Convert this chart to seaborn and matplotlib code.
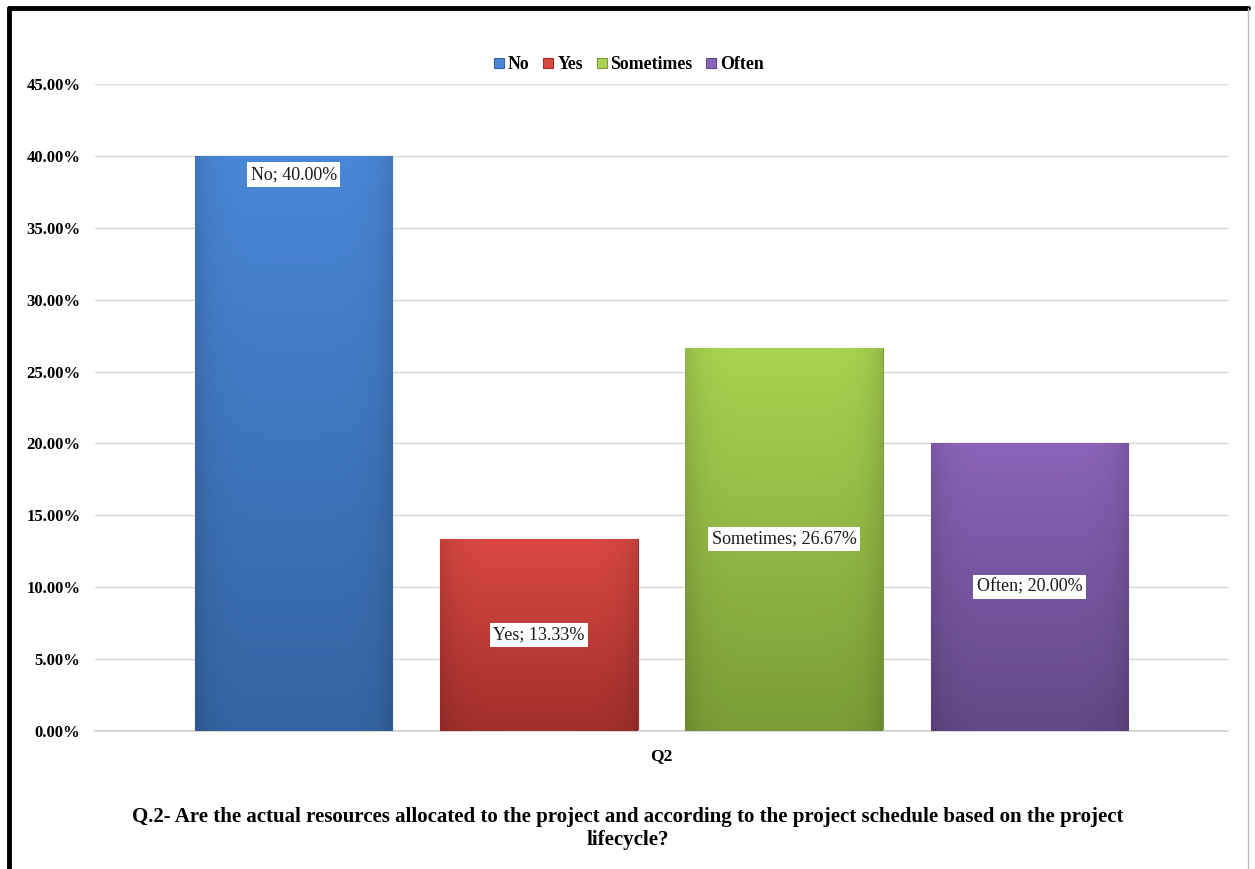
import numpy as np
import pandas as pd
import seaborn as sns
import matplotlib.pyplot as plt
from matplotlib.colors import LinearSegmentedColormap
from matplotlib.lines import Line2D
from matplotlib.ticker import PercentFormatter

# Survey answers for Q2
categories = ["No", "Yes", "Sometimes", "Often"]
shares = [0.40, 0.1333, 0.2667, 0.20]
label_texts = ["No; 40.00%", "Yes; 13.33%", "Sometimes; 26.67%", "Often; 20.00%"]
group_label = "Q2"
title = ("Q.2- Are the actual resources allocated to the project and according to the project schedule based on the project\n"
         "lifecycle?")

# top / bottom shades of the Excel style gradient
top_colors = ["#4A87D8", "#DA4842", "#A9D350", "#8A64B9"]
bottom_colors = ["#3464A2", "#A22F2B", "#7A9D37", "#634886"]
label_inside_end = [True, False, False, False]

data = pd.DataFrame({"Answer": categories, "Share": shares})

sns.set_theme(style="white")
plt.rcParams["font.family"] = ["Liberation Serif", "DejaVu Serif"]
plt.rcParams["text.color"] = "black"
plt.rcParams["axes.labelcolor"] = "black"
plt.rcParams["ytick.color"] = "black"

fig = plt.figure(figsize=(12.55, 8.69), dpi=100)
ax = fig.add_axes([0.0757, 0.1588, 0.9028, 0.7445])

palette = dict(zip(categories, top_colors))
sns.barplot(data=data, x="Answer", y="Share", hue="Answer", palette=palette,
            width=0.805, dodge=False, legend=False, ax=ax, zorder=2)

ax.set_ylim(0, 0.45)
ax.set_xlim(-0.81, 3.81)
ax.set_yticks(np.arange(0, 0.451, 0.05))
ax.yaxis.set_major_formatter(PercentFormatter(1.0, decimals=2))
ax.grid(axis="y", color="#D9D9D9", linewidth=1, zorder=0)
ax.set_axisbelow(True)
for s in ["top", "right", "left"]:
    ax.spines[s].set_visible(False)
ax.spines["bottom"].set_color("#D0D0D0")
ax.spines["bottom"].set_linewidth(1.2)
ax.tick_params(axis="y", length=0, pad=10.5, labelsize=12, labelcolor="black")
ax.tick_params(axis="x", length=0)
for t in ax.get_yticklabels():
    t.set_fontweight("bold")
ax.set_xticks([])
ax.set_xlabel(group_label, fontsize=12.5, fontweight="bold", labelpad=12, color="black")
ax.set_ylabel("")

# gradient fill clipped to each bar
for patch, c_top, c_bot in zip(ax.patches, top_colors, bottom_colors):
    x0, y0 = patch.get_x(), patch.get_y()
    w, h = patch.get_width(), patch.get_height()
    cmap = LinearSegmentedColormap.from_list("g", [c_bot, c_top])
    grad = np.linspace(0, 1, 256).reshape(-1, 1)
    edge = 1 - 0.12 * np.abs(np.linspace(-1, 1, 64)) ** 6
    img = cmap(grad * np.ones((1, 64)))
    img[..., :3] *= edge[None, :, None]
    im = ax.imshow(img, extent=[x0, x0 + w, y0, y0 + h], origin="lower",
                   aspect="auto", zorder=3)
    im.set_clip_path(patch)
    patch.set_edgecolor(c_bot)
    patch.set_linewidth(0.8)

# data labels
for i, (val, txt, at_end) in enumerate(zip(shares, label_texts, label_inside_end)):
    y = val - 0.013 if at_end else val / 2
    ax.text(i, y, txt, ha="center", va="center", fontsize=13, color="#1a1a1a",
            zorder=5, bbox=dict(boxstyle="square,pad=0.2", fc="white", ec="none"))

# legend
handles = [Line2D([0], [0], marker="s", linestyle="", markersize=7,
                  markerfacecolor=c, markeredgecolor=b, markeredgewidth=0.8)
           for c, b in zip(top_colors, bottom_colors)]
leg = fig.legend(handles, categories, loc="center", bbox_to_anchor=(0.5, 0.926),
                 ncol=4, frameon=False, handletextpad=0.05, columnspacing=0.6,
                 handlelength=0.9, prop={"weight": "bold", "size": 12.8})

fig.text(0.5, 0.047, title, ha="center", va="center", fontsize=15,
         fontweight="bold", linespacing=1.2)

# frame around the chart like the screenshot
fig.add_artist(Line2D([0.0072, 0.0072], [0, 0.9908], color="black", linewidth=3.5,
                      transform=fig.transFigure))
fig.add_artist(Line2D([0.0072, 0.9945], [0.9908, 0.9908], color="black", linewidth=3.5,
                      transform=fig.transFigure))
fig.add_artist(Line2D([0.9945, 0.9945], [0, 0.9908], color="#BBBBBB", linewidth=1,
                      transform=fig.transFigure))

fig.savefig("out.png", dpi=100, facecolor="white")
